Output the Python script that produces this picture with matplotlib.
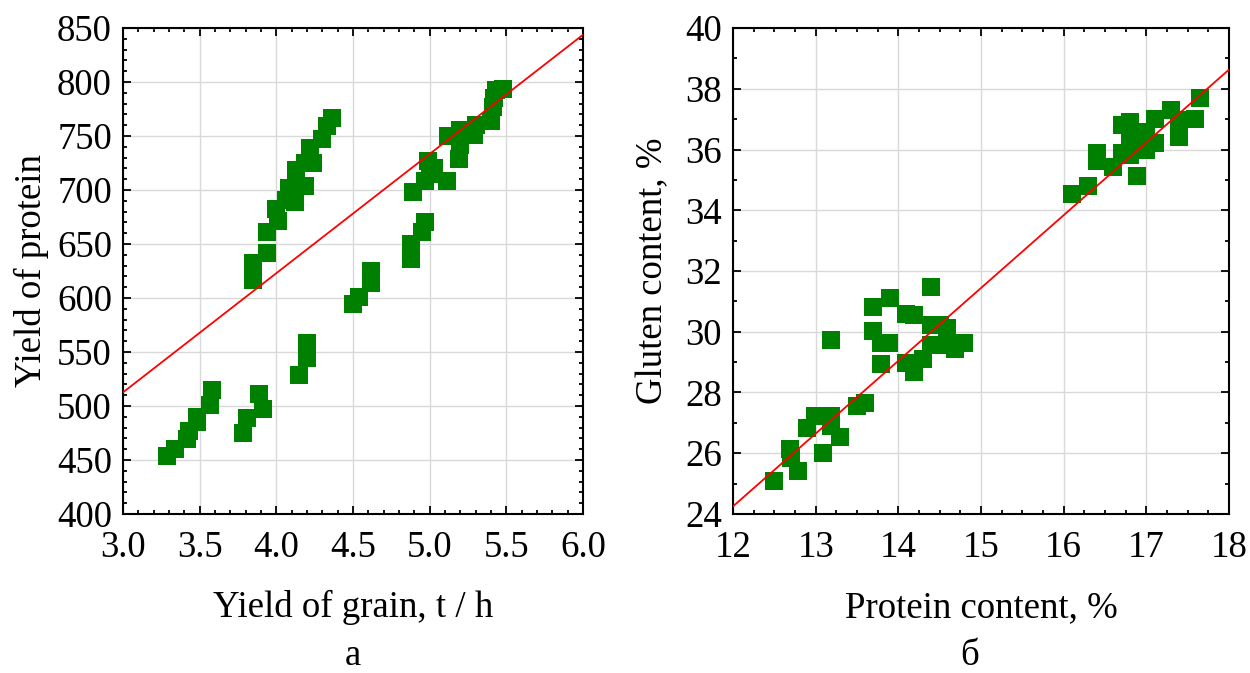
import matplotlib
matplotlib.use("Agg")
import matplotlib.pyplot as plt
import numpy as np
from matplotlib.ticker import MultipleLocator, FormatStrFormatter

plt.rcParams['font.family'] = ['Liberation Serif', 'DejaVu Serif']

# Left panel: yield of grain vs yield of protein
grain_yield = [3.29, 3.34, 3.42, 3.43, 3.48, 3.48, 3.57, 3.58,
               3.78, 3.81, 3.89, 3.91,
               4.15, 4.20, 4.20, 4.20,
               4.50, 4.54, 4.62, 4.62,
               4.88, 4.88, 4.95, 4.97,
               4.89, 4.97, 5.11, 4.99, 5.12, 5.19, 5.20, 5.30, 5.29, 5.40,
               5.41, 5.43, 5.42, 5.48, 5.20, 5.03, 5.00,
               3.85, 3.85, 3.94, 3.94, 4.00, 4.01, 4.06, 4.08, 4.12, 4.19,
               4.13, 4.19, 4.24, 4.22, 4.22, 4.30, 4.33, 4.36]
protein_yield = [454, 460, 469, 477, 490, 485, 501, 515,
                 475, 489, 511, 497,
                 529, 544, 558, 549,
                 594, 601, 614, 625,
                 636, 650, 661, 670,
                 698, 708, 708, 727, 750, 729, 756, 760, 751, 764,
                 777, 793, 785, 794, 742, 720, 715,
                 617, 632, 642, 661, 682, 671, 691, 702, 689, 704,
                 719, 725, 725, 734, 739, 747, 759, 767]
fit_left = (110.4, 181.4)   # slope, intercept of red fit line

# Right panel: protein content vs gluten content
protein_content = [12.50, 12.79, 12.69, 12.70, 12.89, 12.99, 13.09, 13.18, 13.19,
                   13.29, 13.50, 13.60, 13.19,
                   13.69, 13.90, 14.39, 14.09, 14.19, 13.69, 13.79, 13.89, 13.79,
                   14.09, 14.19, 14.30, 14.39, 14.50, 14.59, 14.40, 14.59, 14.69, 14.80,
                   16.10, 16.30, 16.40, 16.40, 16.60, 16.70, 16.70, 16.80, 16.80, 16.89,
                   16.80, 17.00, 17.00, 17.10, 17.10, 17.30, 17.40, 17.40, 17.59, 17.65]
gluten_content = [25.10, 25.41, 26.14, 25.84, 26.82, 27.21, 26.01, 27.21, 26.89,
                  26.52, 27.56, 27.67, 29.72,
                  30.82, 31.11, 31.46, 30.60, 30.54, 30.01, 29.62, 29.64, 28.95,
                  28.98, 28.66, 29.09, 30.21, 30.21, 30.13, 29.58, 29.58, 29.42, 29.62,
                  34.52, 34.81, 35.89, 35.63, 35.43, 35.87, 36.80, 36.91, 36.36, 35.13,
                  35.81, 36.00, 36.58, 36.20, 36.99, 37.31, 36.42, 36.96, 36.99, 37.70]
fit_right = (2.397, -4.514)  # slope, intercept

fig = plt.figure(figsize=(12.5, 6.73), dpi=100)
axL = fig.add_axes([0.0984, 0.2363, 0.368, 0.722])
axR = fig.add_axes([0.5864, 0.2363, 0.3968, 0.722])

green = '#008000'
FS = 26.5

def style(ax, xlim, ylim, xmaj, xmin, ymaj, ymin):
    ax.set_xlim(*xlim)
    ax.set_ylim(*ylim)
    ax.xaxis.set_major_locator(MultipleLocator(xmaj))
    ax.xaxis.set_minor_locator(MultipleLocator(xmin))
    ax.yaxis.set_major_locator(MultipleLocator(ymaj))
    ax.yaxis.set_minor_locator(MultipleLocator(ymin))
    ax.grid(True, which='major', color='#d9d9d9', linewidth=1.0)
    ax.set_axisbelow(True)
    ax.tick_params(which='both', direction='in', top=True, right=True,
                   labelsize=FS, width=1.3, colors='black')
    ax.tick_params(which='major', length=6)
    ax.tick_params(which='minor', length=3)
    ax.tick_params(axis='x', which='major', pad=12)
    ax.tick_params(axis='y', which='major', pad=8)
    for s in ax.spines.values():
        s.set_linewidth(1.5)
        s.set_color('black')

style(axL, (3.0, 6.0), (400, 850), 0.5, 0.1, 50, 10)
axL.scatter(grain_yield, protein_yield, marker='s', s=160, color=green,
            linewidths=0, zorder=3)
xl = np.array(axL.get_xlim())
axL.plot(xl, fit_left[0] * xl + fit_left[1], color='red', lw=1.3, zorder=4)
axL.xaxis.set_major_formatter(FormatStrFormatter('%.1f'))
axL.set_xlabel('Yield of grain, t / h', fontsize=FS, va='center')
axL.set_ylabel('Yield of protein', fontsize=FS, va='center')
axL.xaxis.set_label_coords(0.5, -0.193)
axL.yaxis.set_label_coords(-0.2, 0.5)

style(axR, (12, 18), (24, 40), 1, 0.25, 2, 1)
axR.scatter(protein_content, gluten_content, marker='s', s=160, color=green,
            linewidths=0, zorder=3)
xr = np.array(axR.get_xlim())
axR.plot(xr, fit_right[0] * xr + fit_right[1], color='red', lw=1.3, zorder=4)
axR.set_xlabel('Protein content, %', fontsize=FS, va='center')
axR.set_ylabel('Gluten content, %', fontsize=FS, va='center')
axR.xaxis.set_label_coords(0.5, -0.193)
axR.yaxis.set_label_coords(-0.161, 0.5)

fig.text(353 / 1250, 0.0, 'а', fontsize=FS, ha='center', va='bottom')
fig.text(970 / 1250, 0.0, 'б', fontsize=FS, ha='center', va='bottom')

fig.savefig('out.png', dpi=100)
